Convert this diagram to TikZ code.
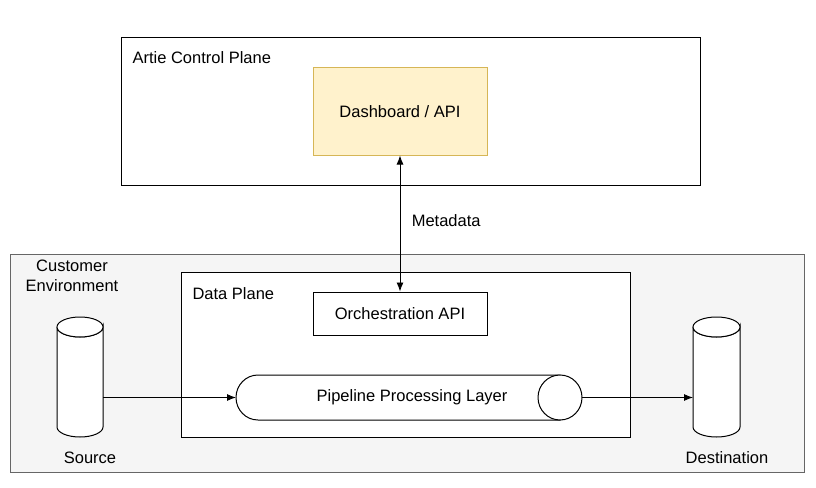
\documentclass[tikz,border=0pt]{standalone}
\usepackage{fontspec}
\setmainfont{Liberation Sans}
\usetikzlibrary{arrows.meta}
\begin{document}
\begin{tikzpicture}[x=1pt,y=-1pt,font=\fontsize{16.5pt}{20pt}\selectfont,
  box/.style={draw,line width=1pt},
  cyl/.style={draw,line width=1pt,fill=white},
  arr/.style={-{Latex[length=9pt,width=7pt]},line width=0.9pt}]
\useasboundingbox (0,0) rectangle (816,487);
\draw[box,fill=white] (121,38) rectangle (700,185);
\node[anchor=west] (cpl) at (129,58) {Artie Control Plane};
\node[box,draw={rgb,255:red,214;green,182;blue,86},fill={rgb,255:red,255;green,242;blue,204},minimum width=174pt,minimum height=87pt] (dash) at (400,111.5) {Dashboard / API};
\draw[line width=1pt,draw=black!60,fill=black!4] (10,254) rectangle (804,472);
\node[align=center] (ce) at (72,276) {Customer\\Environment};
\draw[box,fill=white] (181,272) rectangle (630,437);
\node[anchor=west] (dpl) at (189,294) {Data Plane};
\node[box,minimum width=174pt,minimum height=43pt] (orch) at (400,313.5) {Orchestration API};
% source cylinder
\draw[cyl] (57,327) -- (57,427) arc[start angle=180,end angle=0,x radius=23,y radius=10] -- (103,327) arc[start angle=0,end angle=180,x radius=23,y radius=10];
\draw[cyl] (80,327) ellipse[x radius=23,y radius=10];
% destination cylinder
\draw[cyl] (693,327) -- (693,427) arc[start angle=180,end angle=0,x radius=23.5,y radius=10] -- (740,327) arc[start angle=0,end angle=180,x radius=23.5,y radius=10];
\draw[cyl] (716.5,327) ellipse[x radius=23.5,y radius=10];
% pipeline
\draw[cyl] (258,420) arc[start angle=90,end angle=270,x radius=22,y radius=22.5] -- (560,375) -- (560,420) -- cycle;
\draw[cyl] (560,397.5) ellipse[x radius=22,y radius=22.5];
\node (pipet) at (412,397.5) {Pipeline Processing Layer};
\coordinate (srcE) at (103,397.5);
\coordinate (pipeW) at (236,397.5);
\coordinate (pipeE) at (582,397.5);
\coordinate (dstW) at (693,397.5);
\node (srcl) at (90,458) {Source};
\node (dstl) at (727,458) {Destination};
\draw[{Latex[length=9pt,width=7pt]}-{Latex[length=9pt,width=7pt]},line width=0.9pt] (dash.south) -- node[right=8pt,pos=0.48] {Metadata} (orch.north);
\draw[arr] (srcE) -- (pipeW);
\draw[arr] (pipeE) -- (dstW);
\end{tikzpicture}
\end{document}
